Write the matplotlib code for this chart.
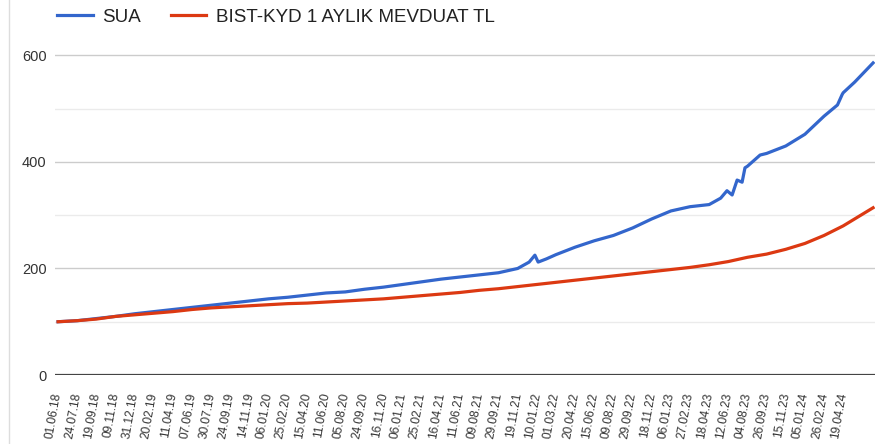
import numpy as np
import matplotlib
matplotlib.use('Agg')
from matplotlib import pyplot as plt
from matplotlib.lines import Line2D

plt.rcParams['font.family'] = ['Liberation Sans', 'DejaVu Sans']

labels = ['01.06.18', '24.07.18', '19.09.18', '09.11.18', '31.12.18', '20.02.19',
          '11.04.19', '07.06.19', '30.07.19', '24.09.19', '14.11.19', '06.01.20',
          '25.02.20', '15.04.20', '11.06.20', '05.08.20', '24.09.20', '16.11.20',
          '06.01.21', '25.02.21', '16.04.21', '11.06.21', '09.08.21', '29.09.21',
          '19.11.21', '10.01.22', '01.03.22', '20.04.22', '15.06.22', '09.08.22',
          '29.09.22', '18.11.22', '06.01.23', '27.02.23', '18.04.23', '12.06.23',
          '04.08.23', '26.09.23', '15.11.23', '05.01.24', '26.02.24', '19.04.24']

# position in label steps (0 = 01.06.18)
sua_x = [0, 1, 2, 3, 4, 5, 6, 7, 8, 9, 10, 11, 12, 13, 14, 15, 16, 17, 18, 19,
         20, 21, 22, 23, 24, 24.6, 24.9, 25.07, 25.5, 26, 27, 28, 29, 30, 31, 32,
         33, 34, 34.6, 34.93, 35.2, 35.46, 35.72, 35.87, 36, 36.66, 37, 38, 39,
         40, 40.7, 40.95, 41, 41.6, 42.56]
sua = [100, 102, 106, 110, 115, 119, 123, 127, 131, 135, 139, 143, 146, 150,
       154, 156, 161, 165, 170, 175, 180, 184, 188, 192, 200, 212, 225, 212,
       218, 226, 240, 252, 262, 276, 293, 308, 316, 320, 332, 346, 338, 366,
       362, 389, 392, 413, 416, 430, 452, 486, 507, 527, 530, 550, 586]

bist_x = list(range(42)) + [42.56]
bist = [100, 102, 105, 110, 113, 116, 119, 123, 126, 128, 130, 132, 134, 135,
        137, 139, 141, 143, 146, 149, 152, 155, 159, 162, 166, 170, 174, 178,
        182, 186, 190, 194, 198, 202, 207, 213, 221, 227, 236, 247, 262, 280, 314]

fig = plt.figure(figsize=(8.82, 4.44), dpi=100)
ax = fig.add_axes([55/882, 1-375/444, 820/882, 335/444])

ax.plot(sua_x, sua, color='#3366cc', lw=2.3, label='SUA', zorder=3)
ax.plot(bist_x, bist, color='#dc3912', lw=2.3, label='BIST-KYD 1 AYLIK MEVDUAT TL', zorder=3)

ax.set_xlim(-0.16, 42.66)
ax.set_ylim(0, 629)
ax.set_yticks([0, 200, 400, 600])
ax.set_yticks([100, 300, 500], minor=True)
ax.grid(axis='y', which='major', color='#cccccc', lw=1)
ax.grid(axis='y', which='minor', color='#ebebeb', lw=1)
ax.axhline(0, color='#444444', lw=1.6, zorder=2)
ax.set_xticks(range(len(labels)))
ax.set_xticklabels(labels, rotation=80, ha='right', va='center',
                   rotation_mode='anchor', fontsize=8.6, color='#333333')
ax.tick_params(axis='x', length=0, pad=13)
ax.tick_params(axis='y', which='both', length=0, pad=6, labelsize=10.5, labelcolor='#333333')
for s in ax.spines.values():
    s.set_visible(False)

fig.legend(loc='center left', bbox_to_anchor=(57/882, 1-17/444), ncol=2,
           frameon=False, fontsize=13.5, handlelength=1.9, handletextpad=0.5,
           columnspacing=1.6, borderpad=0, borderaxespad=0, labelcolor='#222222')

fig.add_artist(Line2D([8.5/882, 8.5/882], [0, 1], color='#dddddd', lw=1))

fig.savefig('out.png', dpi=100)
